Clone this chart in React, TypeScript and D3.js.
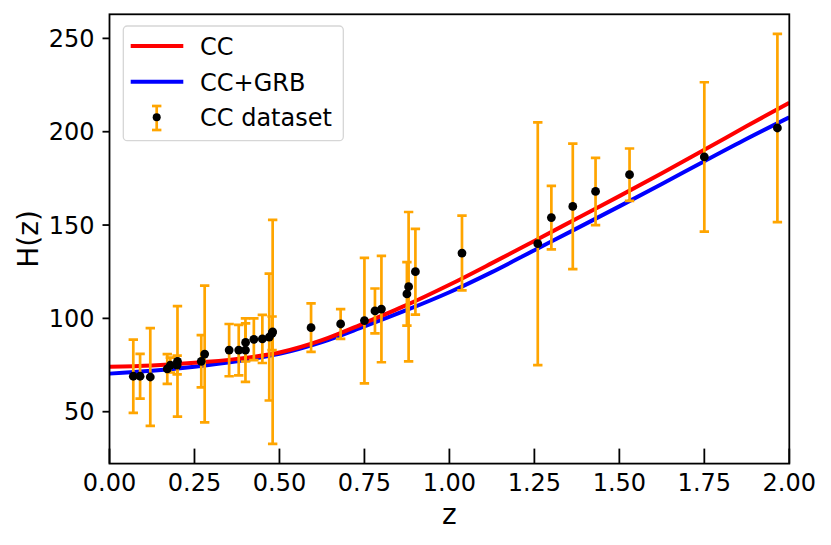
import { useEffect, useRef } from 'react';
import * as d3 from 'd3';

// cosmic chronometer points (z, H, sigma)
const zObs = [
  0.07, 0.09, 0.12, 0.17, 0.179, 0.199, 0.2, 0.27, 0.28, 0.352, 0.3802, 0.4,
  0.4004, 0.4247, 0.4497, 0.47, 0.4783, 0.48, 0.593, 0.68, 0.75, 0.781, 0.8,
  0.875, 0.88, 0.9, 1.037, 1.26, 1.3, 1.363, 1.43, 1.53, 1.75, 1.965,
];
const hObs = [
  69, 69, 68.6, 72.9, 75, 75, 77, 77, 80.9, 83, 83, 83, 87.1, 88.8, 89, 90,
  92, 92.8, 95, 97, 98.8, 104, 105, 113.1, 117, 125, 135, 140, 154, 160, 168,
  177, 186.5, 202,
];
const sigmaObs = [
  19.6, 12, 26.2, 8, 4, 5, 29.6, 14, 36.6, 14, 13.5, 17, 10.2, 11.2, 12.9, 34,
  9, 60, 13, 8, 33.6, 12, 28.5, 17, 40, 23, 20, 65, 17, 33.6, 18, 14, 40, 50.4,
];

// best-fit curves
const zModel = [
  0, 0.125, 0.25, 0.375, 0.5, 0.625, 0.75, 0.875, 1.0, 1.125, 1.25, 1.375, 1.5,
  1.625, 1.75, 1.875, 2.0,
];
const hCC = [
  74.1, 74.8, 76.2, 78.3, 81.7, 88.3, 97.5, 107.2, 118.0, 129.6, 141.5, 153.5,
  165.5, 177.8, 190.3, 203.0, 215.5,
];
const hCCGRB = [
  70.4, 71.9, 74.1, 77.0, 81.0, 87.3, 95.7, 104.5, 114.0, 124.8, 136.5, 148.2,
  160.0, 172.0, 184.2, 196.2, 207.7,
];

const xTicks = [0, 0.25, 0.5, 0.75, 1.0, 1.25, 1.5, 1.75, 2.0];
const yTicks = [50, 100, 150, 200, 250];

const legendItems = ['CC', 'CC+GRB', 'CC dataset'];

const WIDTH = 831;
const HEIGHT = 545;
const FONT = 'DejaVu Sans, sans-serif';

export default function App() {
  const svgRef = useRef<SVGSVGElement>(null);

  useEffect(() => {
    if (!svgRef.current) return;
    const svg = d3.select(svgRef.current);
    svg.selectAll('*').remove();

    const margin = { top: 14.3, right: 41.7, bottom: 81.4, left: 109.5 };
    const innerWidth = WIDTH - margin.left - margin.right;
    const innerHeight = HEIGHT - margin.top - margin.bottom;

    const x = d3.scaleLinear().domain([0, 2]).range([0, innerWidth]);
    const y = d3.scaleLinear().domain([22.2, 262.9]).range([innerHeight, 0]);

    const g = svg
      .append('g')
      .attr('transform', `translate(${margin.left},${margin.top})`);

    svg
      .append('defs')
      .append('clipPath')
      .attr('id', 'plot-clip')
      .append('rect')
      .attr('width', innerWidth)
      .attr('height', innerHeight);

    const plot = g.append('g').attr('clip-path', 'url(#plot-clip)');

    const line = d3
      .line<number>()
      .x((_, i) => x(zModel[i]))
      .y((d) => y(d))
      .curve(d3.curveCatmullRom);

    const lw = 4;

    plot
      .append('path')
      .datum(hCCGRB)
      .attr('fill', 'none')
      .attr('stroke', '#0000ff')
      .attr('stroke-width', lw)
      .attr('d', line as never);

    plot
      .append('path')
      .datum(hCC)
      .attr('fill', 'none')
      .attr('stroke', '#ff0000')
      .attr('stroke-width', lw)
      .attr('d', line as never);

    // error bars
    const idx = d3.range(zObs.length);
    const capHalf = 4.7;
    const ebw = 2.7;
    const bars = plot.append('g').attr('stroke', '#ffa500').attr('stroke-width', ebw);
    bars
      .selectAll('line.bar')
      .data(idx)
      .join('line')
      .attr('class', 'bar')
      .attr('x1', (i) => x(zObs[i]))
      .attr('x2', (i) => x(zObs[i]))
      .attr('y1', (i) => y(hObs[i] - sigmaObs[i]))
      .attr('y2', (i) => y(hObs[i] + sigmaObs[i]));
    bars
      .selectAll('line.capTop')
      .data(idx)
      .join('line')
      .attr('class', 'capTop')
      .attr('x1', (i) => x(zObs[i]) - capHalf)
      .attr('x2', (i) => x(zObs[i]) + capHalf)
      .attr('y1', (i) => y(hObs[i] + sigmaObs[i]))
      .attr('y2', (i) => y(hObs[i] + sigmaObs[i]));
    bars
      .selectAll('line.capBot')
      .data(idx)
      .join('line')
      .attr('class', 'capBot')
      .attr('x1', (i) => x(zObs[i]) - capHalf)
      .attr('x2', (i) => x(zObs[i]) + capHalf)
      .attr('y1', (i) => y(hObs[i] - sigmaObs[i]))
      .attr('y2', (i) => y(hObs[i] - sigmaObs[i]));

    plot
      .append('g')
      .selectAll('circle')
      .data(idx)
      .join('circle')
      .attr('cx', (i) => x(zObs[i]))
      .attr('cy', (i) => y(hObs[i]))
      .attr('r', 4.4)
      .attr('fill', '#000');

    // spines
    g.append('rect')
      .attr('width', innerWidth)
      .attr('height', innerHeight)
      .attr('fill', 'none')
      .attr('stroke', '#000')
      .attr('stroke-width', 1.8);

    // x ticks (inward)
    const xt = g
      .append('g')
      .selectAll('g')
      .data(xTicks)
      .join('g')
      .attr('transform', (d) => `translate(${x(d)},${innerHeight})`);
    xt.append('line').attr('y1', 0).attr('y2', -15).attr('stroke', '#000').attr('stroke-width', 1.8);
    xt.append('text')
      .attr('y', 27)
      .attr('text-anchor', 'middle')
      .attr('font-family', FONT)
      .attr('font-size', 24)
      .text((d) => d3.format('.2f')(d));

    // y ticks (outward)
    const yt = g
      .append('g')
      .selectAll('g')
      .data(yTicks)
      .join('g')
      .attr('transform', (d) => `translate(0,${y(d)})`);
    yt.append('line').attr('x1', 0).attr('x2', -7).attr('stroke', '#000').attr('stroke-width', 1.8);
    yt.append('text')
      .attr('x', -15)
      .attr('y', 8.7)
      .attr('text-anchor', 'end')
      .attr('font-family', FONT)
      .attr('font-size', 24)
      .text((d) => String(d));

    // axis labels
    svg
      .append('text')
      .attr('x', margin.left + innerWidth / 2)
      .attr('y', 524)
      .attr('text-anchor', 'middle')
      .attr('font-family', FONT)
      .attr('font-size', 28)
      .text('z');
    svg
      .append('text')
      .attr('transform', `translate(38,${margin.top + innerHeight / 2}) rotate(-90)`)
      .attr('text-anchor', 'middle')
      .attr('font-family', FONT)
      .attr('font-size', 28)
      .text('H(z)');

    // legend
    const lg = svg.append('g');
    lg.append('rect')
      .attr('x', 123.3)
      .attr('y', 26)
      .attr('width', 220)
      .attr('height', 114.7)
      .attr('rx', 4)
      .attr('fill', 'rgba(255,255,255,0.8)')
      .attr('stroke', '#d6d6d6')
      .attr('stroke-width', 1.3);

    const rowY = [46, 81.7, 117.3];
    const colors = ['#ff0000', '#0000ff'];
    colors.forEach((c, i) => {
      lg.append('line')
        .attr('x1', 130.7)
        .attr('x2', 183.3)
        .attr('y1', rowY[i])
        .attr('y2', rowY[i])
        .attr('stroke', c)
        .attr('stroke-width', lw);
    });
    const ex = 156.7;
    const eb = lg.append('g').attr('stroke', '#ffa500').attr('stroke-width', ebw);
    eb.append('line').attr('x1', ex).attr('x2', ex).attr('y1', 106).attr('y2', 130);
    eb.append('line').attr('x1', ex - capHalf).attr('x2', ex + capHalf).attr('y1', 106).attr('y2', 106);
    eb.append('line').attr('x1', ex - capHalf).attr('x2', ex + capHalf).attr('y1', 130).attr('y2', 130);
    lg.append('circle').attr('cx', ex).attr('cy', rowY[2]).attr('r', 4).attr('fill', '#000');

    lg.selectAll('text')
      .data(legendItems)
      .join('text')
      .attr('x', 200)
      .attr('y', (_, i) => rowY[i] + 9)
      .attr('font-family', FONT)
      .attr('font-size', 24)
      .text((d) => d);
  }, []);

  return (
    <svg
      ref={svgRef}
      width={WIDTH}
      height={HEIGHT}
      style={{ position: 'absolute', left: 0, top: 0, background: '#fff' }}
    />
  );
}
